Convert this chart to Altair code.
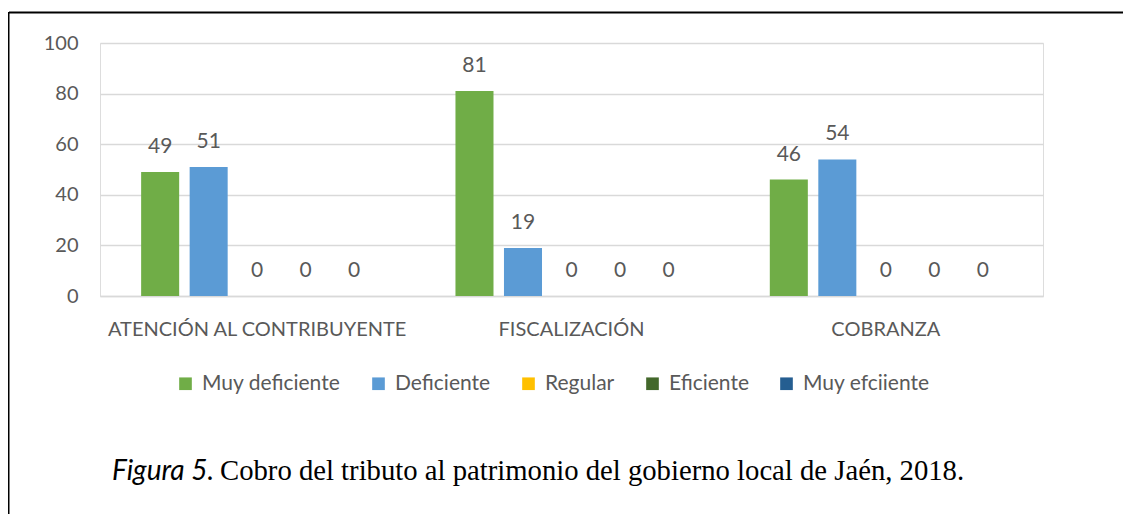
import altair as alt
import pandas as pd

categories = ["ATENCIÓN AL CONTRIBUYENTE", "FISCALIZACIÓN", "COBRANZA"]
series = ["Muy deficiente", "Deficiente", "Regular", "Eficiente", "Muy efciiente"]
colors = ["#70AD47", "#5B9BD5", "#FFC000", "#43682B", "#255E91"]
values = {
    "ATENCIÓN AL CONTRIBUYENTE": [49, 51, 0, 0, 0],
    "FISCALIZACIÓN": [81, 19, 0, 0, 0],
    "COBRANZA": [46, 54, 0, 0, 0],
}
caption_a = "Figura 5."
caption_b = "Cobro del tributo al patrimonio del gobierno local de Jaén, 2018."

rows = []
for c in categories:
    for s, v in zip(series, values[c]):
        rows.append({"cat": c, "serie": s, "val": v})
df = pd.DataFrame(rows)

FONT = "Lato"
GREY = "#595959"
W, H = 943, 253

x = alt.X("cat:N", sort=categories, title=None,
          scale=alt.Scale(paddingInner=0, paddingOuter=0),
          axis=alt.Axis(labelAngle=0, ticks=False, domainColor="#D9D9D9", domainWidth=1.5,
                        labelFont=FONT, labelFontSize=20, labelColor=GREY, labelPadding=23,
                        labelLimit=400))
xo = alt.XOffset("serie:N", sort=series,
                 scale=alt.Scale(paddingInner=0.216, paddingOuter=0.848))
y = alt.Y("val:Q", title=None,
          scale=alt.Scale(domain=[0, 100]),
          axis=alt.Axis(values=[0, 20, 40, 60, 80, 100], ticks=False, domain=False,
                        gridColor="#D9D9D9", gridWidth=1.5,
                        labelFont=FONT, labelFontSize=20, labelColor=GREY, labelPadding=22))
color = alt.Color("serie:N", sort=series, title=None,
                  scale=alt.Scale(domain=series, range=colors),
                  legend=alt.Legend(orient="none", legendX=75, legendY=330, direction="horizontal",
                                    columns=5, columnPadding=27, padding=0,
                                    symbolType="square", symbolSize=160, symbolStrokeWidth=0,
                                    labelFont=FONT, labelFontSize=21, labelColor=GREY,
                                    labelOffset=6, labelLimit=300))

base = alt.Chart(df)
bars = base.mark_bar().encode(x=x, xOffset=xo, y=y, color=color)
labels = base.mark_text(font=FONT, fontSize=21, color=GREY, baseline="middle", dy=-25).encode(
    x=x, xOffset=xo, y=y, text=alt.Text("val:Q"))

cap_df = pd.DataFrame({"a": [caption_a], "b": [caption_b]})
cap1 = alt.Chart(cap_df).mark_text(font=FONT, fontStyle="italic", fontSize=28, color="black",
                                   align="left", baseline="alphabetic").encode(
    text="a:N", x=alt.value(12), y=alt.value(437))
cap2 = alt.Chart(cap_df).mark_text(font="Liberation Serif", fontSize=28.7, color="black",
                                   align="left", baseline="alphabetic").encode(
    text="b:N", x=alt.value(120), y=alt.value(437))

frame_top = alt.Chart(cap_df).mark_rule(color="black", strokeWidth=2).encode(
    x=alt.value(-91), x2=alt.value(1031), y=alt.value(-30.5))
frame_left = alt.Chart(cap_df).mark_rule(color="black", strokeWidth=2).encode(
    x=alt.value(-91.5), y=alt.value(-31), y2=alt.value(480))

chart = alt.layer(bars, labels, cap1, cap2, frame_top, frame_left).properties(
    width=W, height=H,
    autosize=alt.AutoSizeParams(type="none"),
    padding={"left": 92, "top": 35, "right": 80, "bottom": 218},
).configure_view(stroke=None).configure(background="white")

chart.save("out.html", embed_options={"renderer": "svg", "actions": False})
